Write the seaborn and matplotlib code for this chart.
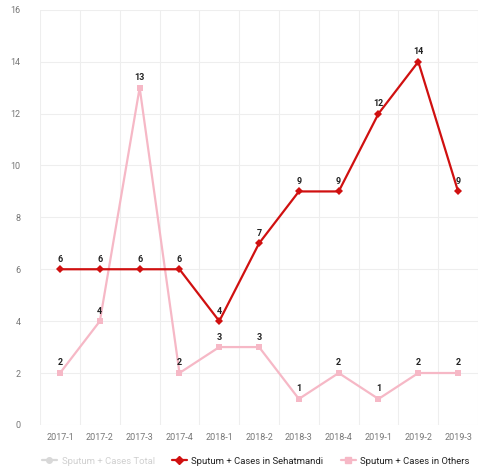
import numpy as np
import pandas as pd
import matplotlib.pyplot as plt
import seaborn as sns
from matplotlib.lines import Line2D

# data
quarters = ["2017-1", "2017-2", "2017-3", "2017-4", "2018-1", "2018-2",
            "2018-3", "2018-4", "2019-1", "2019-2", "2019-3"]
sehatmandi = [6, 6, 6, 6, 4, 7, 9, 9, 12, 14, 9]
others = [2, 4, 13, 2, 3, 3, 1, 2, 1, 2, 2]

red = "#d01010"
pink = "#f6b8c6"

sns.set_style("white")
plt.rcParams["font.family"] = ["Roboto", "DejaVu Sans"]

df = pd.DataFrame({"q": quarters, "seh": sehatmandi, "oth": others})
df["x"] = np.arange(len(quarters))

fig = plt.figure(figsize=(4.78, 4.70), dpi=100)
ax = fig.add_axes([0.084, 0.096, 0.916, 0.883])

sns.lineplot(data=df, x="x", y="oth", ax=ax, color=pink, linewidth=1.6,
             marker="s", markersize=5, markeredgewidth=0)
sns.lineplot(data=df, x="x", y="seh", ax=ax, color=red, linewidth=1.6,
             marker="D", markersize=4, markeredgewidth=0)

for i in range(len(quarters)):
    ax.annotate(str(sehatmandi[i]), (i, sehatmandi[i]), xytext=(0, 4),
                textcoords="offset points", ha="center", va="bottom",
                fontsize=6.5, fontweight="bold", color="#222222")
    ax.annotate(str(others[i]), (i, others[i]), xytext=(0, 4),
                textcoords="offset points", ha="center", va="bottom",
                fontsize=6.5, fontweight="bold", color="#222222")

ax.set_xlim(-0.5, len(quarters) - 0.5)
ax.set_ylim(0, 16)
ax.set_xticks(df["x"])
ax.set_xticklabels(quarters)
ax.set_xticks(np.arange(-0.5, len(quarters), 1), minor=True)
ax.set_yticks(range(0, 17, 2))
ax.grid(which="minor", axis="x", color="#eeeeee", linewidth=0.8)
ax.grid(which="major", axis="y", color="#eeeeee", linewidth=0.8)
ax.tick_params(axis="both", which="both", length=0, labelsize=6.5,
               colors="#777777", pad=6)
ax.tick_params(axis="y", pad=14)
for s in ax.spines.values():
    s.set_visible(False)
ax.set_xlabel("")
ax.set_ylabel("")

handles = [
    Line2D([], [], color="#d8d8d8", marker="o", markersize=4, linewidth=1.6),
    Line2D([], [], color=red, marker="D", markersize=4, linewidth=1.6),
    Line2D([], [], color=pink, marker="s", markersize=5, linewidth=1.6),
]
labels = ["Sputum + Cases Total", "Sputum + Cases in Sehatmandi",
          "Sputum + Cases in Others"]
leg = fig.legend(handles, labels, loc="center", bbox_to_anchor=(0.535, 0.019),
                 ncol=3, frameon=False, fontsize=6.8, handlelength=1.6,
                 columnspacing=1.8, handletextpad=0.5)
leg.get_texts()[0].set_color("#d0d0d0")
for t in leg.get_texts()[1:]:
    t.set_color("#222222")

fig.savefig("out.png", dpi=100)
